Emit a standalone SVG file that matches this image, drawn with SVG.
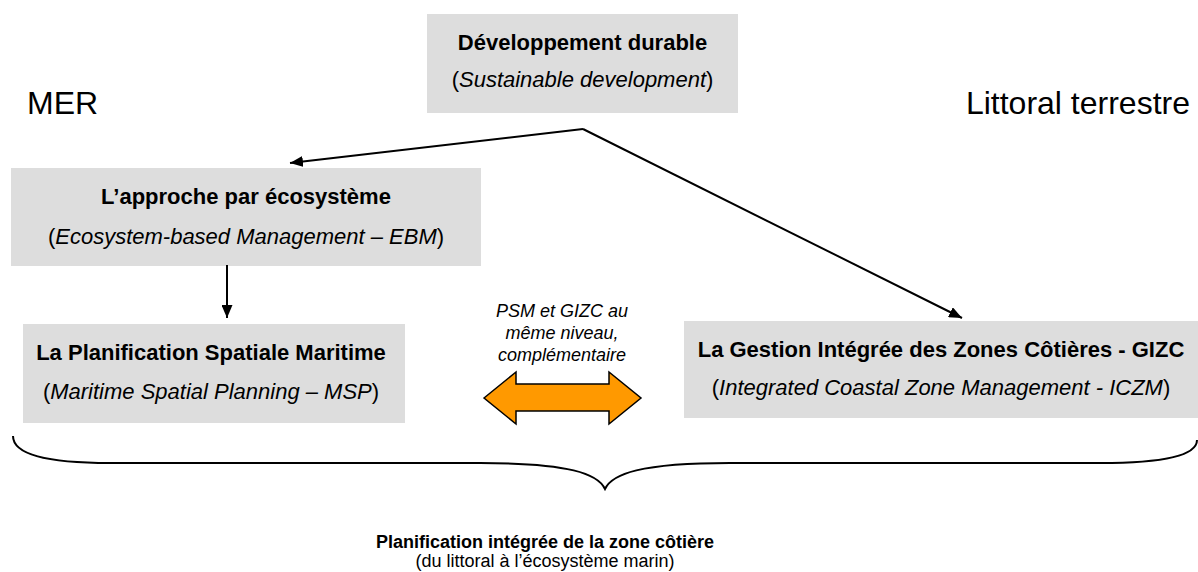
<svg xmlns="http://www.w3.org/2000/svg" width="1198" height="572" viewBox="0 0 1198 572">
<style>
.box{fill:#dddddd;stroke:none}
text{font-family:"Liberation Sans",Arial,sans-serif;fill:#000}
.b{font-weight:bold;font-size:22px}
.i{font-size:22px}
.it{font-style:italic}
.side{font-size:32px}
.note{font-style:italic;font-size:18px}
.foot{font-size:18px}
.conn{stroke:#000;stroke-width:2;fill:none}
</style>
<defs>
<marker id="ah" viewBox="0 0 13 11" refX="13" refY="5.5" markerWidth="13" markerHeight="11" markerUnits="userSpaceOnUse" orient="auto">
<path d="M0,0 L13,5.5 L0,11 z" fill="#000"/>
</marker>
</defs>
<rect width="1198" height="572" fill="#fff"/>
<text class="side" x="27" y="114">MER</text>
<text class="side" x="1190" y="114" text-anchor="end">Littoral terrestre</text>
<g id="dd">
<rect class="box" x="427" y="14" width="311" height="99"/>
<text class="b" x="582.5" y="50" text-anchor="middle">Développement durable</text>
<text class="i" x="582.5" y="87" text-anchor="middle">(<tspan class="it">Sustainable development</tspan>)</text>
</g>
<g id="ebm">
<rect class="box" x="11" y="168" width="470" height="98"/>
<text class="b" x="246" y="204" text-anchor="middle">L’approche par écosystème</text>
<text class="i" x="246" y="244" text-anchor="middle">(<tspan class="it">Ecosystem-based Management – EBM</tspan>)</text>
</g>
<g id="msp">
<rect class="box" x="23" y="324" width="382" height="99"/>
<text class="b" x="211" y="360" text-anchor="middle">La Planification Spatiale Maritime</text>
<text class="i" x="211" y="399" text-anchor="middle">(<tspan class="it">Maritime Spatial Planning – MSP</tspan>)</text>
</g>
<g id="gizc">
<rect class="box" x="684" y="321" width="514" height="97"/>
<text class="b" x="941" y="357" text-anchor="middle">La Gestion Intégrée des Zones Côtières - GIZC</text>
<text class="i" x="941" y="395" text-anchor="middle">(<tspan class="it">Integrated Coastal Zone Management - ICZM</tspan>)</text>
</g>
<g id="note">
<text class="note" x="562" y="317" text-anchor="middle">PSM et GIZC au</text>
<text class="note" x="562" y="339" text-anchor="middle">même niveau,</text>
<text class="note" x="562" y="361" text-anchor="middle">complémentaire</text>
</g>
<g id="connectors">
<line class="conn" x1="583" y1="129" x2="290" y2="163" marker-end="url(#ah)"/>
<line class="conn" x1="583" y1="129" x2="962" y2="318" marker-end="url(#ah)"/>
<line class="conn" x1="227" y1="265" x2="227" y2="318" marker-end="url(#ah)"/>
<path id="dbl" d="M484,398 L516,372 L516,384 L609,384 L609,372 L641,398 L609,424 L609,411 L516,411 L516,424 Z" fill="#ff9900" stroke="#000" stroke-width="1.5" stroke-linejoin="miter"/>
</g>
<g id="brace">
<path class="conn" d="M13,436 C13,454 45,463 110,463 L480,463 C570,463 598,474 605,489 C612,474 640,463 730,463 L1100,463 C1165,463 1197,455 1197,440"/>
</g>
<g id="footer">
<text class="foot" font-weight="bold" x="545" y="548" text-anchor="middle">Planification intégrée de la zone côtière</text>
<text class="foot" x="545" y="567" text-anchor="middle">(du littoral à l’écosystème marin)</text>
</g>
</svg>
